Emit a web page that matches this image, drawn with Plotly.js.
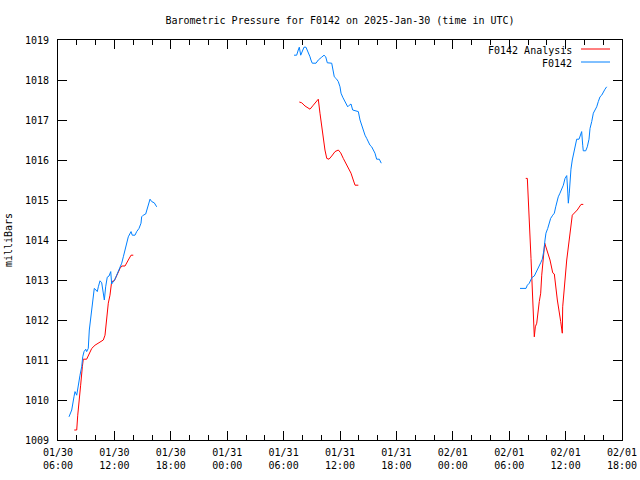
<!DOCTYPE html>
<html>
<head>
<meta charset="utf-8">
<script src="https://cdn.plot.ly/plotly-3.0.1.min.js"></script>
<style>html,body{margin:0;padding:0;background:#fff;}#chart{width:640px;height:480px;}</style>
</head>
<body>
<div id="chart"></div>
<script>
// Times are hours after 2025-01-30 00:00 UTC
const obsHours1 = [7.17,7.46,7.70,7.81,7.99,8.16,8.34,8.52,8.63,8.77,8.95,9.05,9.22,9.33,9.48,9.59,9.76,9.86,10.04,10.18,10.29,10.47,10.65,10.82,10.93,11.07,11.24,11.43,11.61,11.71,11.88,12.06,12.24,12.41,12.60,12.78,12.95,13.13,13.31,13.48,13.77,13.90,14.19,14.37,14.62,14.83,14.90,15.07,15.33,15.50,15.68,15.79,15.97,16.24,16.50];
const obsPress1 = [1009.58,1009.75,1010.08,1010.21,1010.12,1010.42,1010.62,1010.83,1011.08,1011.21,1011.27,1011.21,1011.29,1011.75,1012.08,1012.33,1012.71,1012.79,1012.75,1012.71,1012.83,1012.98,1012.93,1012.67,1012.5,1012.83,1013.07,1013.1,1013.21,1012.9,1012.96,1013.02,1013.12,1013.21,1013.32,1013.42,1013.58,1013.75,1013.96,1014.08,1014.21,1014.12,1014.12,1014.21,1014.29,1014.42,1014.58,1014.62,1014.65,1014.79,1014.92,1015.02,1014.96,1014.93,1014.83];

const obsHours2 = [31.11,31.39,31.56,31.67,31.82,31.99,32.17,32.38,32.52,32.70,32.81,32.91,33.05,33.45,33.69,34.05,34.30,34.48,34.65,35.12,35.29,35.39,35.65,35.82,36.0,36.11,36.29,36.46,36.64,36.82,36.99,37.17,37.35,37.70,37.95,38.13,38.31,38.48,38.66,38.84,39.01,39.19,39.37,39.54,39.72,39.90,40.18,40.39];
const obsPress2 = [1018.62,1018.62,1018.75,1018.82,1018.62,1018.71,1018.82,1018.82,1018.75,1018.62,1018.58,1018.5,1018.42,1018.42,1018.5,1018.57,1018.62,1018.58,1018.43,1018.42,1018.25,1018.08,1018.02,1017.96,1017.83,1017.67,1017.57,1017.5,1017.42,1017.33,1017.37,1017.4,1017.25,1017.23,1017.21,1017.0,1016.85,1016.71,1016.62,1016.54,1016.46,1016.37,1016.33,1016.25,1016.17,1016.02,1016.02,1015.92];

const obsHours3 = [55.15,55.79,55.93,56.14,56.29,56.46,56.67,56.85,57.03,57.20,57.35,57.52,57.70,57.81,57.91,58.10,58.27,58.41,58.63,58.80,58.95,59.05,59.22,59.40,59.59,59.76,59.94,60.12,60.22,60.29,60.39,60.47,60.57,60.71,60.89,61.07,61.18,61.43,61.53,61.71,61.82,61.88,62.14,62.31,62.49,62.60,62.78,62.95,63.13,63.31,63.48,63.66,63.84,64.01,64.19,64.37];
const obsPress3 = [1012.79,1012.79,1012.87,1012.92,1013.0,1013.07,1013.1,1013.18,1013.27,1013.35,1013.43,1013.52,1013.75,1014.0,1014.17,1014.29,1014.46,1014.54,1014.62,1014.67,1014.83,1014.96,1015.08,1015.17,1015.29,1015.37,1015.54,1015.61,1015.25,1014.92,1015.17,1015.5,1015.77,1016.0,1016.18,1016.42,1016.52,1016.52,1016.6,1016.71,1016.37,1016.23,1016.23,1016.33,1016.52,1016.79,1016.96,1017.17,1017.25,1017.33,1017.46,1017.58,1017.62,1017.71,1017.77,1017.83];

const anaHours1 = [7.73,7.99,8.10,8.23,8.41,8.59,8.69,9.05,9.22,9.59,9.94,10.47,10.82,11.0,11.18,11.35,11.53,11.71,11.99,12.24,12.60,12.78,13.13,13.48,13.77,14.01];
const anaPress1 = [1009.25,1009.25,1009.62,1009.87,1010.37,1010.83,1011.02,1011.02,1011.12,1011.29,1011.37,1011.46,1011.5,1011.62,1012.08,1012.42,1012.62,1012.96,1012.98,1013.12,1013.29,1013.35,1013.35,1013.5,1013.62,1013.62];

const anaHours2 = [31.67,31.93,32.28,32.81,33.16,33.63,33.69,33.87,34.05,34.22,34.40,34.59,34.83,35.12,35.47,35.82,36.07,36.35,36.71,36.96,37.17,37.41,37.60,37.95];
const anaPress2 = [1017.45,1017.43,1017.35,1017.27,1017.37,1017.5,1017.52,1017.17,1016.83,1016.5,1016.25,1016.04,1016.02,1016.1,1016.21,1016.25,1016.18,1016.04,1015.87,1015.79,1015.67,1015.5,1015.37,1015.37];

const anaHours3 = [55.76,55.93,56.32,56.67,56.78,56.93,57.20,57.35,57.46,57.78,58.34,58.63,58.80,59.12,59.48,59.65,59.69,60.12,60.71,61.24,61.64,61.88];
const anaPress3 = [1015.54,1015.54,1013.54,1011.58,1011.83,1011.92,1012.46,1012.67,1013.12,1013.92,1013.5,1013.18,1013.15,1012.5,1011.96,1011.67,1012.33,1013.5,1014.62,1014.75,1014.89,1014.89];

const tickHours = [6,12,18,24,30,36,42,48,54,60,66];
const tickLabels = ["01/30<br>06:00","01/30<br>12:00","01/30<br>18:00","01/31<br>00:00","01/31<br>06:00","01/31<br>12:00","01/31<br>18:00","02/01<br>00:00","02/01<br>06:00","02/01<br>12:00","02/01<br>18:00"];

const seriesNames = ["F0142 Analysis", "F0142"];
const titleText = "Barometric Pressure for F0142 on 2025-Jan-30 (time in UTC)";

const BASE = Date.UTC(2025, 0, 30, 0, 0, 0);
function toDate(h) {
  return new Date(BASE + h * 3600000).toISOString().replace('T', ' ').slice(0, 19);
}
// join segments with gaps (null) between them
function joinSegs(hs, ps) {
  const x = [], y = [];
  hs.forEach((h, i) => {
    if (i > 0) { x.push(null); y.push(null); }
    h.forEach((v, j) => { x.push(toDate(v)); y.push(ps[i][j]); });
  });
  return {x, y};
}
const ana = joinSegs([anaHours1, anaHours2, anaHours3], [anaPress1, anaPress2, anaPress3]);
const obs = joinSegs([obsHours1, obsHours2, obsHours3], [obsPress1, obsPress2, obsPress3]);

const RED = '#ff0000', BLUE = '#0080ff';
const FONT = 'DejaVu Sans Mono, monospace';

const traces = [
  {x: ana.x, y: ana.y, name: seriesNames[0], type: 'scatter', mode: 'lines', connectgaps: false,
   line: {color: RED, width: 1}},
  {x: obs.x, y: obs.y, name: seriesNames[1], type: 'scatter', mode: 'lines', connectgaps: false,
   line: {color: BLUE, width: 1}}
];

const layout = {
  width: 640, height: 480,
  margin: {l: 58, r: 18, t: 40, b: 40, pad: 0},
  paper_bgcolor: '#fff', plot_bgcolor: '#fff',
  font: {family: FONT, size: 10, color: '#000'},
  showlegend: false,
  title: {text: titleText, font: {family: FONT, size: 10, color: '#000'},
          xref: 'paper', x: 0.5, xanchor: 'center', yref: 'container', y: 1 - 20/480, yanchor: 'middle'},
  xaxis: {
    type: 'date',
    range: [toDate(6), toDate(66)],
    tickmode: 'array', tickvals: tickHours.map(toDate), ticktext: tickLabels,
    ticks: 'inside', ticklen: 9, tickcolor: '#000', tickwidth: 1,
    minor: {dtick: 2 * 3600000, tick0: toDate(6), ticks: 'inside', ticklen: 5, tickcolor: '#000', tickwidth: 1, showgrid: false},
    showline: true, linecolor: '#000', linewidth: 1, mirror: 'allticks',
    showgrid: false, zeroline: false,
    tickfont: {family: FONT, size: 10, color: '#000'},
    ticklabelstandoff: 3,
    fixedrange: true
  },
  yaxis: {
    range: [1009, 1019], dtick: 1, tick0: 1009,
    ticks: 'inside', ticklen: 9, tickcolor: '#000', tickwidth: 1,
    showline: true, linecolor: '#000', linewidth: 1, mirror: 'allticks',
    showgrid: false, zeroline: false,
    tickfont: {family: FONT, size: 10, color: '#000'},
    ticklabelstandoff: 6,
    title: {text: 'milliBars', font: {family: FONT, size: 10, color: '#000'}, standoff: 10},
    fixedrange: true
  },
  annotations: [
    {xref: 'paper', yref: 'paper', x: (574 - 58) / 564, y: (440 - 50) / 400, xanchor: 'right', yanchor: 'middle',
     text: seriesNames[0], showarrow: false, font: {family: FONT, size: 10, color: '#000'}},
    {xref: 'paper', yref: 'paper', x: (574 - 58) / 564, y: (440 - 63) / 400, xanchor: 'right', yanchor: 'middle',
     text: seriesNames[1], showarrow: false, font: {family: FONT, size: 10, color: '#000'}}
  ],
  shapes: [
    {type: 'line', xref: 'paper', yref: 'paper', x0: (581 - 58) / 564, x1: (610 - 58) / 564,
     y0: (440 - 49) / 400, y1: (440 - 49) / 400, line: {color: RED, width: 1}},
    {type: 'line', xref: 'paper', yref: 'paper', x0: (581 - 58) / 564, x1: (610 - 58) / 564,
     y0: (440 - 62) / 400, y1: (440 - 62) / 400, line: {color: BLUE, width: 1}}
  ]
};

Plotly.newPlot('chart', traces, layout, {staticPlot: true, displayModeBar: false});
</script>
</body>
</html>
